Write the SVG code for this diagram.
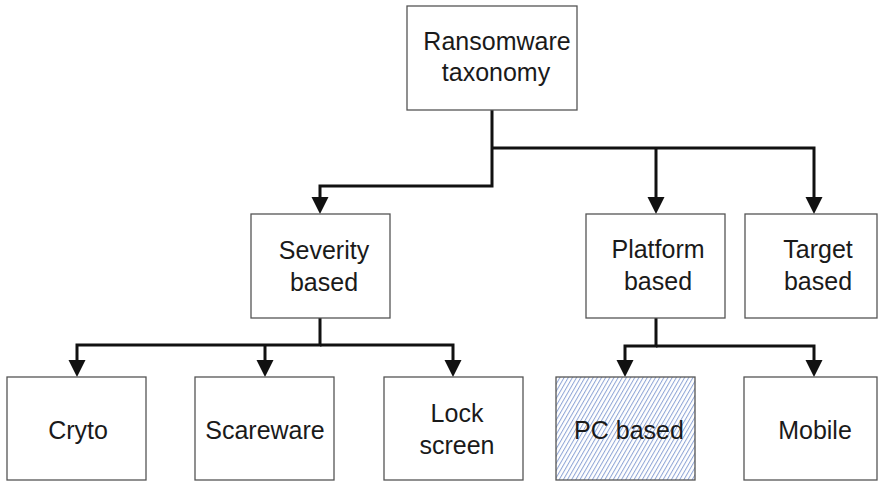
<svg xmlns="http://www.w3.org/2000/svg" width="878" height="481" viewBox="0 0 878 481">
<style>
.box{fill:#fff;stroke:#555;stroke-width:1.3}
.hatch{fill:url(#hatch);stroke:#555;stroke-width:1.3}
.lbl{font-family:"Liberation Sans",Arial,sans-serif;font-size:25px;fill:#1a1a1a;text-anchor:middle}
.con{fill:none;stroke:#111;stroke-width:3;stroke-linejoin:miter}
</style>
<defs>
<marker id="arr" markerUnits="userSpaceOnUse" markerWidth="18" markerHeight="18" refX="0" refY="8.5" orient="auto" viewBox="0 0 18 18">
<path d="M0,0 L17,8.5 L0,17 Z" fill="#111"/>
</marker>
<pattern id="hatch" patternUnits="userSpaceOnUse" width="3.6" height="10" patternTransform="rotate(30)">
<rect width="3.6" height="10" fill="#fff"/>
<line x1="0.5" y1="0" x2="0.5" y2="10" stroke="#8fa5d6" stroke-width="1"/>
</pattern>
</defs>
<g id="connectors">
<path class="con" d="M492,110 V186 H320 V197" marker-end="url(#arr)"/>
<path class="con" d="M492,148 H814 V197" marker-end="url(#arr)"/>
<path class="con" d="M656,148 V197" marker-end="url(#arr)"/>
<path class="con" d="M320,318 V345 H77 V360" marker-end="url(#arr)"/>
<path class="con" d="M320,345 H453 V360" marker-end="url(#arr)"/>
<path class="con" d="M265,345 V360" marker-end="url(#arr)"/>
<path class="con" d="M656,318 V346 H625 V360" marker-end="url(#arr)"/>
<path class="con" d="M656,346 H814 V360" marker-end="url(#arr)"/>
</g>
<g id="root">
<rect class="box" x="407" y="6" width="170" height="104"/>
<text class="lbl" x="497" y="50">Ransomware</text>
<text class="lbl" x="496" y="81">taxonomy</text>
</g>
<g id="severity">
<rect class="box" x="251" y="214" width="139" height="104"/>
<text class="lbl" x="324" y="259">Severity</text>
<text class="lbl" x="324" y="291">based</text>
</g>
<g id="platform">
<rect class="box" x="586" y="214" width="139" height="104"/>
<text class="lbl" x="658" y="258">Platform</text>
<text class="lbl" x="658" y="290">based</text>
</g>
<g id="target">
<rect class="box" x="745" y="214" width="132" height="104"/>
<text class="lbl" x="818" y="258">Target</text>
<text class="lbl" x="818" y="290">based</text>
</g>
<g id="cryto">
<rect class="box" x="7" y="377" width="139" height="103"/>
<text class="lbl" x="78" y="439">Cryto</text>
</g>
<g id="scareware">
<rect class="box" x="195" y="377" width="139" height="103"/>
<text class="lbl" x="265" y="439">Scareware</text>
</g>
<g id="lockscreen">
<rect class="box" x="384" y="377" width="139" height="103"/>
<text class="lbl" x="457" y="422">Lock</text>
<text class="lbl" x="457" y="454">screen</text>
</g>
<g id="pcbased">
<rect class="hatch" x="556" y="377" width="139" height="103"/>
<text class="lbl" x="629" y="439">PC based</text>
</g>
<g id="mobile">
<rect class="box" x="744" y="377" width="133" height="103"/>
<text class="lbl" x="815" y="439">Mobile</text>
</g>
</svg>
